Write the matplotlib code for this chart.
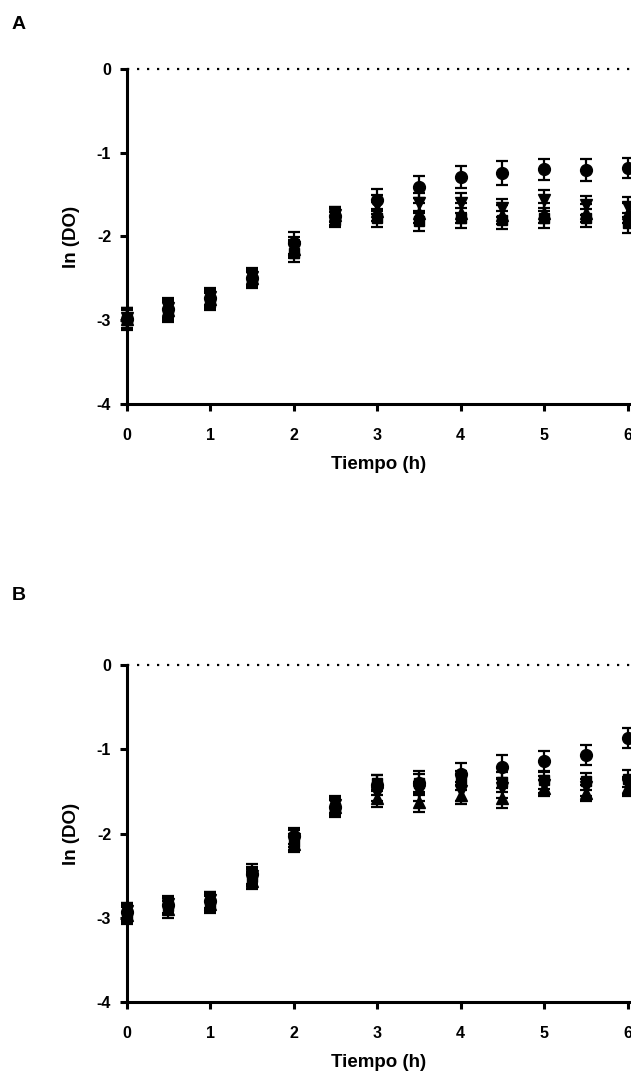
import numpy as np
import matplotlib.pyplot as plt

plt.rcParams['font.family'] = ['Liberation Sans', 'DejaVu Sans']
plt.rcParams['font.weight'] = 'bold'
plt.rcParams['axes.unicode_minus'] = False

# tiempo [h]
t = [0, 0.5, 1, 1.5, 2, 2.5, 3, 3.5, 4, 4.5, 5, 5.5, 6]

# panel A: ln(DO)
a_circ = [-2.98, -2.87, -2.74, -2.50, -2.08, -1.76, -1.56, -1.41, -1.29, -1.24, -1.20, -1.21, -1.18]
a_sq = [-3.00, -2.90, -2.78, -2.52, -2.20, -1.80, -1.78, -1.81, -1.78, -1.80, -1.78, -1.78, -1.84]
a_tup = [-2.98, -2.88, -2.75, -2.50, -2.15, -1.74, -1.70, -1.72, -1.72, -1.74, -1.72, -1.72, -1.72]
a_tdn = [-2.97, -2.86, -2.72, -2.48, -2.12, -1.74, -1.62, -1.60, -1.60, -1.66, -1.57, -1.63, -1.65]
a_err_circ = [0.12, 0.10, 0.10, 0.10, 0.13, 0.10, 0.13, 0.13, 0.13, 0.14, 0.13, 0.13, 0.12]
a_err = [0.12, 0.12, 0.10, 0.10, 0.11, 0.09, 0.11, 0.12, 0.12, 0.11, 0.12, 0.11, 0.12]

# panel B
b_circ = [-2.93, -2.85, -2.80, -2.48, -2.03, -1.68, -1.42, -1.40, -1.29, -1.21, -1.14, -1.07, -0.87]
b_sq = [-2.95, -2.86, -2.82, -2.52, -2.10, -1.70, -1.40, -1.40, -1.37, -1.39, -1.37, -1.38, -1.35]
b_tup = [-2.97, -2.90, -2.84, -2.56, -2.12, -1.68, -1.58, -1.63, -1.54, -1.58, -1.46, -1.52, -1.45]
b_tdn = [-2.92, -2.84, -2.79, -2.50, -2.06, -1.66, -1.52, -1.50, -1.50, -1.46, -1.42, -1.45, -1.43]
b_err_circ = [0.10, 0.10, 0.10, 0.12, 0.10, 0.10, 0.12, 0.14, 0.13, 0.14, 0.12, 0.12, 0.12]
b_err = [0.10, 0.10, 0.10, 0.10, 0.10, 0.10, 0.10, 0.11, 0.11, 0.12, 0.10, 0.10, 0.10]

fig = plt.figure(figsize=(6.31, 10.81), dpi=100)
ax_a = fig.add_axes([0.2005, 0.6263, 0.7995, 0.3099])
ax_b = fig.add_axes([0.2005, 0.0731, 0.7995, 0.3117])


def panel(ax, circ, sq, tup, tdn, err_c, err):
    kw = dict(color='black', linestyle='none', elinewidth=1.6, capsize=4.3,
              capthick=1.6, clip_on=False)
    for y, m, ms, e in [(circ, 'o', 8.5, err_c), (tup, '^', 8.5, err),
                        (tdn, 'v', 8.5, err), (sq, 's', 7.5, err)]:
        ax.errorbar(t, y, yerr=e, marker=m, markersize=ms, **kw)
    ax.axhline(0, color='black', lw=1.6, linestyle=(0, (1, 3.5)), clip_on=False)
    ax.set_xlim(0, 6.04)
    ax.set_ylim(-4, 0)
    ax.set_xticks(range(7))
    ax.set_yticks(range(-4, 1))
    for s in ['top', 'right']:
        ax.spines[s].set_visible(False)
    for s in ['left', 'bottom']:
        ax.spines[s].set_linewidth(2.2)
    ax.tick_params(width=2.2, length=5, labelsize=11.5)
    ax.tick_params(axis='x', pad=12)
    ax.tick_params(axis='y', pad=6)
    ax.set_xlabel('Tiempo (h)', fontsize=13.5, fontweight='bold', labelpad=10)
    ax.set_ylabel('ln (DO)', fontsize=13.5, fontweight='bold', labelpad=12)


panel(ax_a, a_circ, a_sq, a_tup, a_tdn, a_err_circ, a_err)
panel(ax_b, b_circ, b_sq, b_tup, b_tdn, b_err_circ, b_err)

fig.text(0.018, 0.977, 'A', fontsize=14, fontweight='bold', va='center')
fig.text(0.018, 0.449, 'B', fontsize=14, fontweight='bold', va='center')

plt.savefig('out.png', dpi=100)
